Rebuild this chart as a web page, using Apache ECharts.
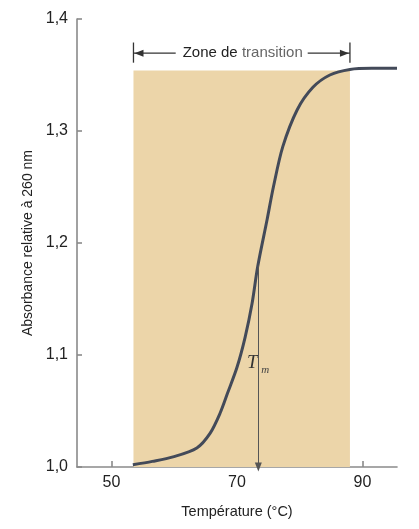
<!DOCTYPE html>
<html><head><meta charset="utf-8">
<script src="https://cdn.jsdelivr.net/npm/echarts@6/dist/echarts.min.js"></script>
<style>html,body{margin:0;padding:0;background:#fff}#c{width:419px;height:529px}</style>
</head><body><div id="c"></div>
<script>
// Data
const temperatures = [53.4, 56.5, 59.8, 63.6, 65.7, 67.3, 68.5, 70.0, 71.3, 72.4, 73.3, 74.8, 75.8, 77.3, 79.6, 82.1, 84.8, 88.0, 91.5, 95.5];
const absorbance   = [1.002, 1.005, 1.009, 1.017, 1.030, 1.048, 1.066, 1.089, 1.116, 1.146, 1.179, 1.221, 1.250, 1.286, 1.319, 1.339, 1.350, 1.355, 1.356, 1.356];
const xTickValues = [50, 60, 70, 80, 90];
const xLabelValues = [50, 70, 90];
const zoneStart = 53.5, zoneEnd = 88.0, zoneTop = 1.354;
const tm = 73.4, tmAbs = 1.180;

const chart = echarts.init(document.getElementById('c'));
const FONT = 'Liberation Sans, Arial, sans-serif';

function renderAnnot(params, api) {
  const children = [];
  const bTop = 1.379, bBot = 1.361, aY = 1.3695;
  const l1 = api.coord([zoneStart, bTop]), l2 = api.coord([zoneStart, bBot]);
  const r1 = api.coord([zoneEnd, bTop]), r2 = api.coord([zoneEnd, bBot]);
  const pl = api.coord([zoneStart, aY]), pr = api.coord([zoneEnd, aY]);
  const cx = (pl[0] + pr[0]) / 2;
  const half = 66;
  const ls = {stroke: '#333', lineWidth: 1.3};
  children.push({type: 'line', shape: {x1: l1[0], y1: l1[1], x2: l2[0], y2: l2[1]}, style: ls});
  children.push({type: 'line', shape: {x1: r1[0], y1: r1[1], x2: r2[0], y2: r2[1]}, style: ls});
  children.push({type: 'line', shape: {x1: pl[0], y1: pl[1], x2: cx - half, y2: pl[1]}, style: ls});
  children.push({type: 'line', shape: {x1: cx + half, y1: pr[1], x2: pr[0], y2: pr[1]}, style: ls});
  children.push({type: 'polygon', shape: {points: [[pl[0] + 1, pl[1]], [pl[0] + 10, pl[1] - 3.5], [pl[0] + 10, pl[1] + 3.5]]}, style: {fill: '#333'}});
  children.push({type: 'polygon', shape: {points: [[pr[0] - 1, pr[1]], [pr[0] - 10, pr[1] - 3.5], [pr[0] - 10, pr[1] + 3.5]]}, style: {fill: '#333'}});
  children.push({type: 'text', style: {
    x: cx + 1, y: pl[1], text: '{a|Zone de }{b|transition}', align: 'center', verticalAlign: 'middle',
    rich: {a: {fontFamily: FONT, fontSize: 15, fill: '#222'}, b: {fontFamily: FONT, fontSize: 15, fill: '#666'}}
  }});
  const t = api.coord([tm, 1.093]);
  children.push({type: 'text', style: {x: t[0] - 6, y: t[1], text: 'T', align: 'center', verticalAlign: 'middle',
    fontFamily: 'Liberation Serif, Times New Roman, serif', fontStyle: 'italic', fontSize: 19, fill: '#333'}});
  children.push({type: 'text', style: {x: t[0] + 7, y: t[1] + 7, text: 'm', align: 'center', verticalAlign: 'middle',
    fontFamily: 'Liberation Serif, Times New Roman, serif', fontStyle: 'italic', fontSize: 11, fill: '#444'}});
  return {type: 'group', children};
}

const axisLineStyle = {color: '#8a8a8a', width: 1.6};
chart.setOption({
  animation: false,
  backgroundColor: '#fff',
  grid: {left: 77, right: 22, top: 19, bottom: 62},
  xAxis: {
    type: 'value', min: 44.5, max: 95.5,
    name: 'Température (°C)', nameLocation: 'middle', nameGap: 37,
    nameTextStyle: {fontFamily: FONT, fontSize: 14.5, color: '#222'},
    axisLine: {show: true, onZero: false, lineStyle: axisLineStyle},
    axisTick: {show: true, inside: true, length: 6, customValues: xTickValues, lineStyle: axisLineStyle},
    axisLabel: {customValues: xLabelValues, fontFamily: FONT, fontSize: 16, color: '#222', margin: 8},
    splitLine: {show: false}
  },
  yAxis: {
    type: 'value', min: 1.0, max: 1.4, interval: 0.1,
    name: 'Absorbance relative à 260 nm', nameLocation: 'middle', nameGap: 42,
    nameTextStyle: {fontFamily: FONT, fontSize: 14, color: '#222'},
    axisLine: {show: true, lineStyle: axisLineStyle},
    axisTick: {show: true, inside: true, length: 5, lineStyle: axisLineStyle},
    axisLabel: {fontFamily: FONT, fontSize: 16, color: '#222', margin: 9,
      formatter: v => v.toFixed(1).replace('.', ',')},
    splitLine: {show: false}
  },
  series: [
    {
      type: 'line', data: [], z: 1, silent: true,
      markArea: {silent: true, itemStyle: {color: '#ecd5a9'},
        data: [[{coord: [zoneStart, 1.0]}, {coord: [zoneEnd, zoneTop]}]]}
    },
    {
      type: 'line', z: 3, symbol: 'none', smooth: 0.3,
      data: temperatures.map((t, i) => [t, absorbance[i]]),
      lineStyle: {color: '#434a59', width: 3},
      markLine: {silent: true, symbol: ['none', 'triangle'], symbolSize: [7, 9], symbolRotate: 180,
        label: {show: false}, lineStyle: {color: '#555', width: 1, type: 'solid'},
        data: [[{coord: [tm, tmAbs]}, {coord: [tm, 1.0]}]]}
    },
    {
      type: 'custom', z: 4, silent: true, data: [[0, 0]],
      renderItem: renderAnnot
    }
  ]
});
</script></body></html>
